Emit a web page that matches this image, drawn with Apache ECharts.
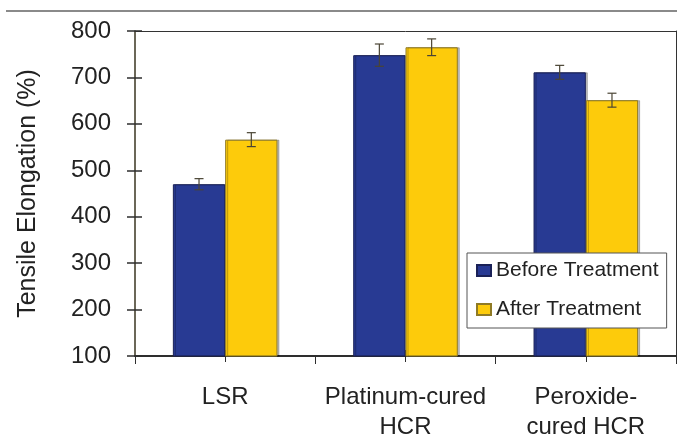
<!DOCTYPE html>
<html>
<head>
<meta charset="utf-8">
<script src="https://cdn.jsdelivr.net/npm/echarts@6/dist/echarts.min.js"></script>
<style>html,body{margin:0;padding:0;background:#fff;}#c{width:677px;height:435px;}</style>
</head>
<body>
<div id="c"></div>
<script>
const categories = ['LSR', 'Platinum-cured\nHCR', 'Peroxide-\ncured HCR'];
const beforeValues = [470, 748, 711];
const afterValues = [566, 765, 651];
const beforeErrors = [12, 24, 15];
const afterErrors = [15, 18, 15];
const yTicks = [100, 200, 300, 400, 500, 600, 700, 800];

const FONT = '"Liberation Sans", Arial, sans-serif';
const chart = echarts.init(document.getElementById('c'), null, {renderer: 'canvas'});

function errSeries(name, values, errors, sign) {
  return {
    type: 'custom',
    name: name,
    xAxisIndex: 0,
    yAxisIndex: 0,
    z: 5,
    data: values.map((v, i) => [i, v, errors[i]]),
    renderItem: function (params, api) {
      const idx = api.value(0), v = api.value(1), e = api.value(2);
      const catW = api.size([1, 0])[0];
      const center = api.coord([idx, v])[0] + sign * catW * 0.145;
      const top = api.coord([idx, v + e])[1];
      const bot = api.coord([idx, v - e])[1];
      const cap = 4.5;
      const style = {stroke: '#4a4434', lineWidth: 1.2};
      return {
        type: 'group',
        children: [
          {type: 'line', shape: {x1: center, y1: top, x2: center, y2: bot}, style: style},
          {type: 'line', shape: {x1: center - cap, y1: top, x2: center + cap, y2: top}, style: style},
          {type: 'line', shape: {x1: center - cap, y1: bot, x2: center + cap, y2: bot}, style: style}
        ]
      };
    }
  };
}

const frameAxisX = {
  type: 'category', data: categories, position: 'top', offset: 0,
  axisLine: {show: true, lineStyle: {color: '#333', width: 1}},
  axisTick: {show: false}, axisLabel: {show: false}, splitLine: {show: false}
};
const frameAxisY = {
  type: 'value', min: yTicks[0], max: yTicks[yTicks.length - 1], interval: 100,
  position: 'right', offset: 0,
  axisLine: {show: true, lineStyle: {color: '#333', width: 1}},
  axisTick: {show: false}, axisLabel: {show: false}, splitLine: {show: false}
};

const option = {
  animation: false,
  textStyle: {fontFamily: FONT},
  grid: {left: 135, right: 1, top: 31, bottom: 79, containLabel: false, outerBoundsMode: 'none'},
  graphic: [{
    type: 'line', shape: {x1: 6, y1: 11, x2: 677, y2: 11},
    style: {stroke: '#8a8a8a', lineWidth: 2}
  }],
  legend: {
    data: ['Before Treatment', 'After Treatment'],
    orient: 'vertical',
    left: 467, top: 253,
    backgroundColor: '#fff',
    borderColor: '#555', borderWidth: 1,
    padding: [7, 8, 8, 9],
    itemWidth: 14, itemHeight: 11, itemGap: 18,
    icon: 'rect',
    textStyle: {fontSize: 21, color: '#222', fontFamily: FONT},
    selectedMode: false
  },
  xAxis: [
    {
      type: 'category', data: categories, position: 'bottom', offset: 0,
      axisLine: {lineStyle: {color: '#2e2e2e', width: 2}},
      axisTick: {show: true, length: 8, lineStyle: {color: '#2e2e2e', width: 1}},
      axisLabel: {fontSize: 24, lineHeight: 30, color: '#222', margin: 26, fontFamily: FONT,
        interval: 0, hideOverlap: false},
      splitLine: {show: false}
    },
    {
      type: 'category', data: categories, position: 'bottom', offset: 0,
      axisLine: {show: false},
      axisTick: {show: true, alignWithLabel: true, inside: true, length: 6, lineStyle: {color: '#2e2e2e', width: 1}},
      axisLabel: {show: false}, splitLine: {show: false}
    },
    {
      type: 'category', data: categories, position: 'bottom', offset: 0,
      axisLine: {show: false},
      axisTick: {show: true, alignWithLabel: true, inside: false, length: 6, lineStyle: {color: '#2e2e2e', width: 1}},
      axisLabel: {show: false}, splitLine: {show: false}
    },
    frameAxisX
  ],
  yAxis: [
    {
      type: 'value', min: yTicks[0], max: yTicks[yTicks.length - 1], interval: 100,
      position: 'left', offset: 0,
      name: 'Tensile Elongation (%)', nameLocation: 'middle', nameGap: 94,
      nameTextStyle: {fontSize: 25, color: '#222', fontFamily: FONT},
      axisLine: {show: true, lineStyle: {color: '#3a3420', width: 1.5}},
      axisTick: {show: true, length: 8, lineStyle: {color: '#2e2e2e', width: 1.5}},
      axisLabel: {fontSize: 24, color: '#222', margin: 24, fontFamily: FONT},
      splitLine: {show: false}
    },
    {
      type: 'value', min: yTicks[0], max: yTicks[yTicks.length - 1], interval: 100,
      position: 'left', offset: 0,
      axisLine: {show: false},
      axisTick: {show: true, inside: true, length: 7, lineStyle: {color: '#2e2e2e', width: 1.5}},
      axisLabel: {show: false}, splitLine: {show: false}
    },
    frameAxisY
  ],
  series: [
    {
      name: 'Before Treatment', type: 'bar', xAxisIndex: 0, yAxisIndex: 0,
      data: beforeValues, barGap: '0%', barCategoryGap: '42%',
      itemStyle: {color: '#283a93', borderColor: '#1a2157', borderWidth: 1,
        shadowColor: 'rgba(0,0,0,0.25)', shadowOffsetX: 2, shadowBlur: 0}
    },
    {
      name: 'After Treatment', type: 'bar', xAxisIndex: 0, yAxisIndex: 0,
      data: afterValues, barGap: '0%', barCategoryGap: '42%',
      itemStyle: {color: '#fdcb0b', borderColor: '#8f7a25', borderWidth: 1,
        shadowColor: 'rgba(0,0,0,0.25)', shadowOffsetX: 2, shadowBlur: 0}
    },
    errSeries('errBefore', beforeValues, beforeErrors, -1),
    errSeries('errAfter', afterValues, afterErrors, 1)
  ]
};
chart.setOption(option);
</script>
</body>
</html>
